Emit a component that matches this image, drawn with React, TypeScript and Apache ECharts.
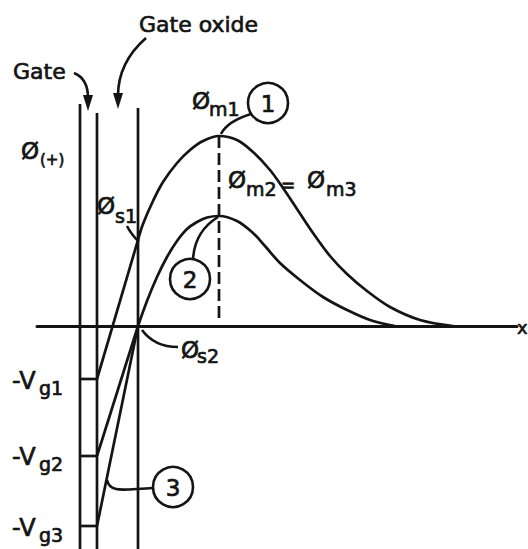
import React, { useEffect, useRef } from "react";
import * as echarts from "echarts";

const INK = "#141414";
const FONT = '"DejaVu Sans", sans-serif';

// positions of the three layer boundaries (distance units)
const X_GATE = 4.3;
const X_OXIDE = 6.0;
const X_SI = 10.1;
const TOP_GATE = 22.2;
const TOP_OXIDE = 21.3;
const TOP_SI = 21.8;
const BOTTOM = -22.3;

// gate voltages (potential units)
const vgLevels = [-5.3, -13.0, -20.0];
// surface potentials at the oxide / semiconductor interface
const phiS = [8.6, 0, 0];

// potential in the semiconductor, case 1
const curve1X = [10.1, 10.6, 11.6, 12.6, 14.0, 15.3, 16.6, 18.2, 20.0, 21.6, 23.3, 24.6, 26.0, 27.6, 29.3, 31.0, 33.0, 35.3, 38.3, 41.6];
const curve1Y = [8.6, 10.2, 12.5, 14.4, 16.3, 17.6, 18.5, 19.0, 18.6, 17.4, 15.6, 13.8, 11.7, 9.3, 7.0, 5.2, 3.5, 1.9, 0.6, 0];
// potential in the semiconductor, cases 2 and 3
const curve2X = [10.1, 11.0, 12.0, 13.0, 14.0, 15.0, 16.0, 17.0, 18.2, 20.0, 21.6, 22.8, 24.3, 26.3, 28.6, 31.0, 33.3, 35.8];
const curve2Y = [0, 2.5, 4.9, 6.9, 8.5, 9.7, 10.4, 10.85, 11.0, 10.5, 9.3, 8.0, 6.3, 4.6, 2.9, 1.6, 0.6, 0];

const peakX = 18.2;
const phiM1 = 19.0;
const dashEndY = 0.8;

const zip = (xs: number[], ys: number[]) => xs.map((x, i) => [x, ys[i]]);

const lineSeries = (data: number[][], extra: any = {}) => ({
  type: "line",
  data,
  symbol: "none",
  silent: true,
  lineStyle: { color: INK, width: 2.7, ...(extra.lineStyle || {}) },
  smooth: extra.smooth || false,
  z: 3,
});

function txt(x: number, y: number, text: string, size: number, align = "left") {
  return {
    type: "text",
    x,
    y,
    silent: true,
    style: {
      text,
      font: `${size}px ${FONT}`,
      fill: INK,
      stroke: INK,
      lineWidth: 0.7,
      align,
      verticalAlign: "middle",
    },
  };
}
function circ(cx: number, cy: number, r: number, label: string) {
  return [
    { type: "circle", shape: { cx, cy, r }, silent: true, style: { fill: "#fff", stroke: INK, lineWidth: 2.6 } },
    txt(cx, cy + 1, label, 23, "center"),
  ];
}
function bez(x1: number, y1: number, cpx1: number, cpy1: number, cpx2: number, cpy2: number, x2: number, y2: number) {
  return {
    type: "bezierCurve",
    silent: true,
    shape: { x1, y1, cpx1, cpy1, cpx2, cpy2, x2, y2 },
    style: { stroke: INK, lineWidth: 2.6, fill: null },
  };
}

export default function App() {
  const ref = useRef<HTMLDivElement>(null);
  useEffect(() => {
    if (!ref.current) return;
    const chart = echarts.init(ref.current, null, { renderer: "svg" });

    const series: any[] = [
      lineSeries([[X_GATE, TOP_GATE], [X_GATE, BOTTOM]]),
      lineSeries([[X_OXIDE, TOP_OXIDE], [X_OXIDE, BOTTOM]]),
      lineSeries([[X_SI, TOP_SI], [X_SI, BOTTOM]]),
      ...vgLevels.map((v) => lineSeries([[X_GATE, v], [X_OXIDE, v]])),
      ...vgLevels.map((v, i) => lineSeries([[X_OXIDE, v], [X_SI, phiS[i]]])),
      lineSeries(zip(curve1X, curve1Y), { smooth: 0.35 }),
      lineSeries(zip(curve2X, curve2Y), { smooth: 0.35 }),
      lineSeries([[peakX, phiM1], [peakX, dashEndY]], { lineStyle: { type: [12, 5] } }),
    ];

    const graphic: any[] = [
      txt(13, 71, "Gate", 22),
      txt(139, 24, "Gate oxide", 22),
      // Gate arrow
      bez(74, 73, 84, 77, 88, 86, 88, 98),
      { type: "polygon", silent: true, shape: { points: [[83, 95], [93, 95], [88, 111]] }, style: { fill: INK } },
      // Gate oxide arrow
      bez(146, 38, 130, 52, 118, 70, 118, 96),
      { type: "polygon", silent: true, shape: { points: [[113, 93], [123, 93], [118, 109]] }, style: { fill: INK } },
      // phi(+)
      txt(21, 151, "Ø", 23),
      txt(40, 160, "(+)", 15),
      // phi m1
      txt(192, 101, "Ø", 23),
      txt(209, 109, "m1", 19),
      // phi m2 = phi m3
      txt(228, 180, "Ø", 23),
      txt(246, 189, "m2", 19),
      txt(281, 185, "=", 17),
      txt(307, 180, "Ø", 23),
      txt(326, 189, "m3", 19),
      // phi s1
      txt(97, 206, "Ø", 23),
      txt(115, 216, "s1", 19),
      bez(127, 226, 130, 232, 134, 237, 139, 242),
      // phi s2
      txt(181, 350, "Ø", 23),
      txt(197, 356, "s2", 19),
      bez(142, 330, 150, 341, 162, 347, 178, 347),
      // gate voltages
      txt(12, 381, "-V", 24),
      txt(39, 388, "g1", 19),
      txt(12, 457, "-V", 24),
      txt(39, 464, "g2", 19),
      txt(12, 528, "-V", 24),
      txt(39, 535, "g3", 19),
      // x axis label
      txt(517, 327, "x", 18),
      // circled numbers and leaders
      bez(251, 114, 238, 118, 226, 124, 221, 134),
      ...circ(268, 103, 20, "1"),
      bez(193, 260, 194, 238, 205, 225, 218, 217),
      ...circ(190, 279, 20, "2"),
      bez(153, 488, 125, 489, 110, 494, 107, 480),
      ...circ(173, 487, 20, "3"),
    ];

    chart.setOption({
      animation: false,
      backgroundColor: "#fff",
      grid: { left: 37, top: 0, width: 480, height: 549 },
      xAxis: {
        type: "value",
        min: 0,
        max: 48,
        axisLine: { show: true, onZero: true, lineStyle: { color: INK, width: 3 } },
        axisTick: { show: false },
        axisLabel: { show: false },
        splitLine: { show: false },
      },
      yAxis: { type: "value", min: BOTTOM, max: 32.6, show: false },
      series,
      graphic,
    });
    return () => chart.dispose();
  }, []);
  return (
    <div
      ref={ref}
      style={{ position: "fixed", left: 0, top: 0, width: 528, height: 549, background: "#fff" }}
    />
  );
}
